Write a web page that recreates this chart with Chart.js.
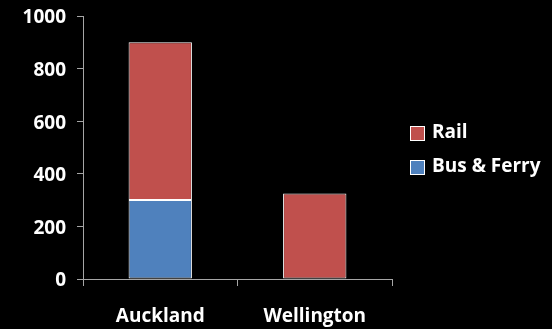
<!DOCTYPE html>
<html>
<head>
<meta charset="utf-8">
<script src="https://cdn.jsdelivr.net/npm/chart.js@4/dist/chart.umd.min.js"></script>
<style>
  html, body { margin: 0; padding: 0; background: #000; }
  #wrap { width: 552px; height: 329px; }
</style>
</head>
<body>
<div id="wrap"><canvas id="c" width="552" height="329"></canvas></div>
<script>
// Passenger trips by mode, stacked per city
const cities = ['Auckland', 'Wellington'];
const busFerry = [300, 0];
const rail = [600, 325];
const yTicks = [0, 200, 400, 600, 800, 1000];

const FONT = { family: '"Open Sans", sans-serif', weight: 'bold', size: 19 };
const AXIS = '#a6a6a6';

// Legend drawn at the right, entries listed top-down as Rail then Bus & Ferry
const sideLegend = {
  id: 'sideLegend',
  afterDraw(chart) {
    const ctx = chart.ctx;
    const items = chart.data.datasets.slice().reverse();
    ctx.save();
    ctx.font = `bold ${FONT.size}px ${FONT.family}`;
    ctx.textBaseline = 'middle';
    items.forEach((ds, i) => {
      const y = 133 + i * 34;
      ctx.fillStyle = ds.backgroundColor;
      ctx.fillRect(410, y - 7, 15, 15);
      ctx.strokeStyle = '#ffffff';
      ctx.lineWidth = 1;
      ctx.strokeRect(410.5, y - 6.5, 14, 14);
      ctx.fillStyle = '#ffffff';
      ctx.fillText(ds.label, 432, y);
    });
    ctx.restore();
  }
};

new Chart(document.getElementById('c'), {
  type: 'bar',
  data: {
    labels: cities,
    datasets: [
      { label: 'Bus & Ferry', data: busFerry, backgroundColor: '#4F81BD',
        borderColor: '#ffffff', borderWidth: 1, borderSkipped: false },
      { label: 'Rail', data: rail, backgroundColor: '#C0504D',
        borderColor: '#ffffff', borderWidth: 1, borderSkipped: false }
    ]
  },
  options: {
    responsive: false,
    animation: false,
    layout: { padding: { top: 16, right: 160, left: 0, bottom: 0 } },
    datasets: { bar: { categoryPercentage: 1, barPercentage: 0.41 } },
    plugins: { legend: { display: false }, tooltip: { enabled: false } },
    scales: {
      x: {
        stacked: true,
        grid: { drawOnChartArea: false, drawTicks: true, tickLength: 7, color: AXIS, offset: true },
        border: { color: AXIS, width: 1 },
        ticks: { color: '#ffffff', font: FONT, padding: 19 },
        afterFit(s) { s.height = 50; s.paddingLeft = 0; s.paddingRight = 0; }
      },
      y: {
        stacked: true,
        min: 0, max: 1000,
        afterBuildTicks(s) { s.ticks = yTicks.map(v => ({ value: v })); },
        grid: { drawOnChartArea: false, drawTicks: true, tickLength: 6, color: AXIS },
        border: { color: AXIS, width: 1 },
        ticks: { color: '#ffffff', font: FONT, padding: 11, labelOffset: 2, callback: v => String(v) },
        afterFit(s) { s.width = 83; s.paddingTop = 0; s.paddingBottom = 0; }
      }
    }
  },
  plugins: [sideLegend]
});
</script>
</body>
</html>
